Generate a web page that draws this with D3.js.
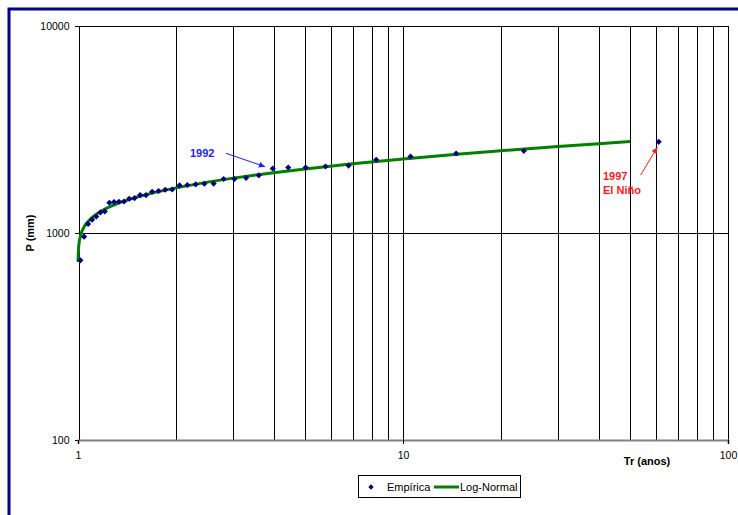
<!DOCTYPE html>
<html>
<head>
<meta charset="utf-8">
<script src="https://cdn.jsdelivr.net/npm/d3@7/dist/d3.min.js"></script>
<style>
  html, body { margin: 0; padding: 0; background: #fff; }
  svg { display: block; font-family: "Liberation Sans", Arial, sans-serif; }
</style>
</head>
<body>
<svg id="chart" width="738" height="515"></svg>
<script>
// Empirical return periods (years) and annual rainfall (mm), ranked largest first
const trEmpirica = [61.2, 23.54, 14.57, 10.55, 8.27, 6.8, 5.774, 5.016, 4.435, 3.974,
  3.6, 3.29, 3.03, 2.807, 2.615, 2.448, 2.301, 2.17, 2.054, 1.949,
  1.855, 1.769, 1.691, 1.619, 1.553, 1.493, 1.437, 1.385, 1.336, 1.291,
  1.249, 1.209, 1.172, 1.138, 1.105, 1.074, 1.044, 1.017];
const pEmpirica = [2756, 2495, 2421, 2342, 2258, 2116, 2096, 2073, 2073, 2050,
  1900, 1848, 1824, 1824, 1733, 1729, 1716, 1705, 1697, 1623,
  1618, 1595, 1582, 1525, 1525, 1475, 1464, 1420, 1416, 1411,
  1400, 1271, 1257, 1202, 1159, 1105, 960, 738];

// Fitted Log-Normal distribution
const trLogNormal = [1.0005, 1.002, 1.005, 1.01, 1.02, 1.03, 1.05, 1.07, 1.1, 1.15,
  1.2, 1.25, 1.35, 1.5, 1.7, 2, 2.5, 3, 4, 5, 7, 10, 15, 20, 30, 40, 50];
const pLogNormal = [725, 802, 865, 920, 985, 1027, 1087, 1131, 1182, 1246,
  1296, 1338, 1405, 1483, 1562, 1652, 1761, 1841, 1956, 2040, 2160, 2279, 2407, 2497, 2618, 2702, 2766];

// Axis ticks and grid
const xTicks = [1, 10, 100];
const yTicks = [100, 1000, 10000];
const xGrid = [2, 3, 4, 5, 6, 7, 8, 9, 10, 20, 30, 40, 50, 60, 70, 80, 90, 100];
const yGrid = [1000, 10000];

const svg = d3.select("#chart");

const x = d3.scaleLog().domain([1, 100]).range([78, 728]);
const y = d3.scaleLog().domain([100, 10000]).range([440, 26]);

// Outer frame (top and left edges)
svg.append("path")
  .attr("d", "M9,515 L9,9 L740,9")
  .attr("fill", "none")
  .attr("stroke", "#000086")
  .attr("stroke-width", 3);

// Grid
const grid = svg.append("g").attr("shape-rendering", "crispEdges");
grid.selectAll("line.vx").data(xGrid).join("line")
  .attr("class", "vx")
  .attr("x1", d => Math.round(x(d)) + 0.5).attr("x2", d => Math.round(x(d)) + 0.5)
  .attr("y1", y(10000)).attr("y2", y(100))
  .attr("stroke", "#000").attr("stroke-width", 1);
grid.selectAll("line.hy").data(yGrid).join("line")
  .attr("class", "hy")
  .attr("x1", x(1)).attr("x2", x(100))
  .attr("y1", d => Math.round(y(d)) + 0.5).attr("y2", d => Math.round(y(d)) + 0.5)
  .attr("stroke", "#000").attr("stroke-width", 1);

// Y axis
const yAxis = svg.append("g")
  .attr("transform", `translate(${Math.round(x(1)) + 0.5},0)`)
  .call(d3.axisLeft(y).tickValues(yTicks).tickFormat(d3.format("d")).tickSize(4).tickPadding(5));
yAxis.select(".domain").attr("stroke", "#000").attr("shape-rendering", "crispEdges");
yAxis.selectAll(".tick line").attr("stroke", "#000").attr("shape-rendering", "crispEdges");
yAxis.selectAll(".tick text").attr("font-size", "10.5px").attr("fill", "#000")
  .attr("font-family", "'Liberation Sans', Arial, sans-serif");

// X axis
const xAxis = svg.append("g")
  .attr("transform", `translate(0,${y(100)})`)
  .call(d3.axisBottom(x).tickValues(xTicks).tickFormat(d3.format("d")).tickSize(4).tickPadding(8));
xAxis.select(".domain").attr("stroke", "#808080").attr("stroke-width", 2);
xAxis.selectAll(".tick line").attr("stroke", "#000").attr("shape-rendering", "crispEdges");
xAxis.selectAll(".tick text").attr("font-size", "10.5px").attr("fill", "#000")
  .attr("font-family", "'Liberation Sans', Arial, sans-serif");

// Axis titles
svg.append("text")
  .attr("transform", `translate(34,${y(1000)}) rotate(-90)`)
  .attr("text-anchor", "middle")
  .attr("font-size", "11px").attr("font-weight", "bold")
  .text("P (mm)");
svg.append("text")
  .attr("x", 647).attr("y", 465)
  .attr("text-anchor", "middle")
  .attr("font-size", "11px").attr("font-weight", "bold")
  .text("Tr (anos)");

// Log-Normal curve
const fitData = trLogNormal.map((t, i) => ({ t, p: pLogNormal[i] }));
svg.append("path")
  .datum(fitData)
  .attr("fill", "none")
  .attr("stroke", "#008000")
  .attr("stroke-width", 3)
  .attr("stroke-linejoin", "round")
  .attr("d", d3.line().x(d => x(d.t)).y(d => y(d.p)));

// Empirical points
const empData = trEmpirica.map((t, i) => ({ t, p: pEmpirica[i] }));
const diamond = d3.symbol().type(d3.symbolSquare).size(19);
svg.append("g").selectAll("path").data(empData).join("path")
  .attr("transform", d => `translate(${x(d.t)},${y(d.p)}) rotate(45)`)
  .attr("d", diamond)
  .attr("fill", "#000080");

// Annotations
const defs = svg.append("defs");
function arrowHead(id, color) {
  defs.append("marker")
    .attr("id", id)
    .attr("viewBox", "0 0 10 10")
    .attr("refX", 10).attr("refY", 5)
    .attr("markerWidth", 8).attr("markerHeight", 6)
    .attr("markerUnits", "userSpaceOnUse")
    .attr("orient", "auto")
    .append("path").attr("d", "M0,0 L10,5 L0,10 Z").attr("fill", color);
}
arrowHead("arrowBlue", "#2020ff");
arrowHead("arrowRed", "#ff1a1a");

svg.append("text")
  .attr("x", 190).attr("y", 157.3)
  .attr("font-size", "11px").attr("font-weight", "bold")
  .attr("fill", "#2020ff")
  .text("1992");
svg.append("line")
  .attr("x1", 226).attr("y1", 153.3).attr("x2", 265).attr("y2", 166.7)
  .attr("stroke", "#2020ff").attr("stroke-width", 1)
  .attr("marker-end", "url(#arrowBlue)");

svg.append("text")
  .attr("x", 603).attr("y", 180)
  .attr("font-size", "11px").attr("font-weight", "bold")
  .attr("fill", "#ff1a1a")
  .text("1997");
svg.append("text")
  .attr("x", 603).attr("y", 194)
  .attr("font-size", "11px").attr("font-weight", "bold")
  .attr("fill", "#ff1a1a")
  .text("El Niño");
svg.append("line")
  .attr("x1", 640.7).attr("y1", 175).attr("x2", 657.3).attr("y2", 147.3)
  .attr("stroke", "#ff1a1a").attr("stroke-width", 1)
  .attr("marker-end", "url(#arrowRed)");

// Legend
const legend = svg.append("g");
legend.append("rect")
  .attr("x", 358.5).attr("y", 475.5).attr("width", 162).attr("height", 22)
  .attr("fill", "#fff").attr("stroke", "#000").attr("stroke-width", 1);
legend.append("path")
  .attr("transform", "translate(371,487) rotate(45)")
  .attr("d", d3.symbol().type(d3.symbolSquare).size(14))
  .attr("fill", "#000080");
legend.append("text")
  .attr("x", 387).attr("y", 491)
  .attr("font-size", "11px")
  .text("Empírica");
legend.append("line")
  .attr("x1", 434).attr("x2", 459).attr("y1", 487).attr("y2", 487)
  .attr("stroke", "#008000").attr("stroke-width", 3);
legend.append("text")
  .attr("x", 460).attr("y", 491)
  .attr("font-size", "11px")
  .text("Log-Normal");
</script>
</body>
</html>
